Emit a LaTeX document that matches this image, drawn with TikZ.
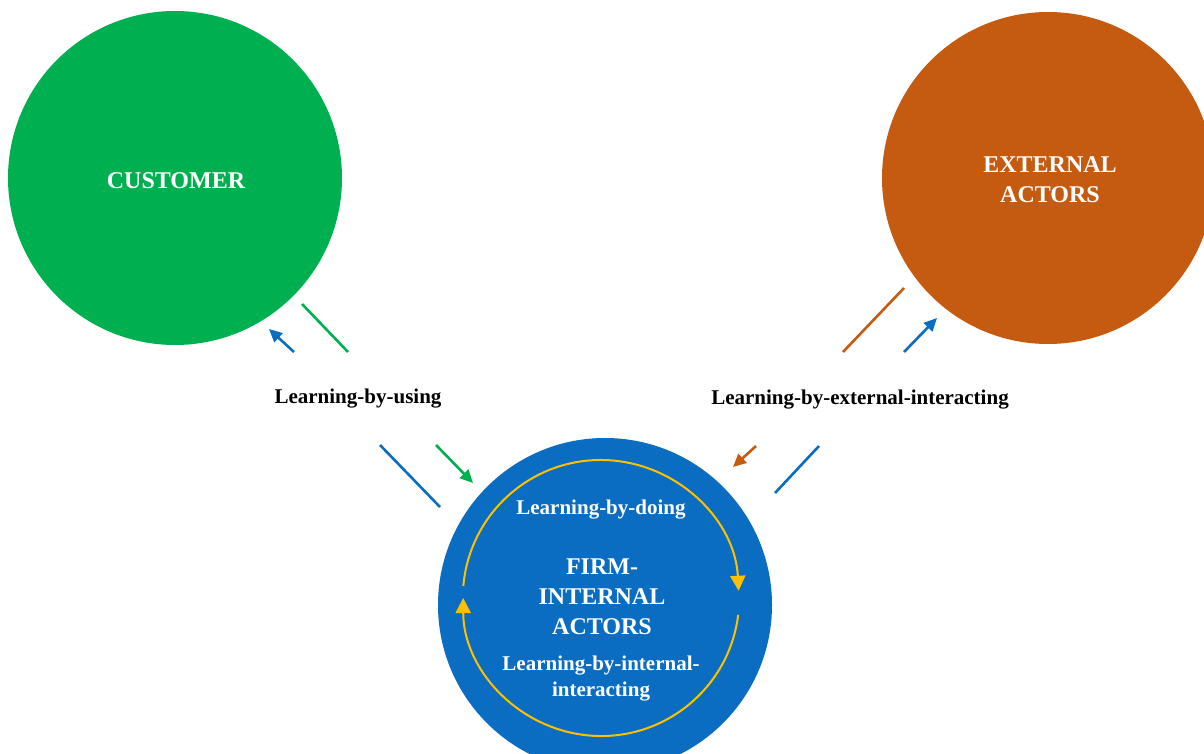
\documentclass[tikz,border=0pt]{standalone}
\usepackage{fontspec}
\setmainfont{Liberation Serif}
\usepackage{tikz}
\usetikzlibrary{arrows.meta}

\definecolor{custgreen}{HTML}{00B050}
\definecolor{extorange}{HTML}{C55A11}
\definecolor{firmblue}{HTML}{0A6DC2}
\definecolor{loopyellow}{HTML}{FFC000}

\tikzset{
  actor/.style={circle, inner sep=0pt, align=center, text=white,
    font=\fontsize{24}{30}\selectfont\bfseries},
  lbl/.style={align=center, font=\fontsize{21}{26}\selectfont\bfseries},
  flow/.style={line width=2.6pt},
  tip/.style={flow, -{Triangle[length=13pt, width=12pt]}},
  loopline/.style={draw=loopyellow, line width=2pt, -{Triangle[length=15pt, width=15pt]}}
}

\begin{document}
\begin{tikzpicture}[x=1pt, y=-1pt]
        \useasboundingbox (0,0) rectangle (1204,754);
        \node[actor, fill=custgreen, minimum size=334pt] (cust) at (175,178) {};
        \node[actor, fill=extorange, minimum size=332pt] (ext) at (1048,178) {};
        \node[actor, fill=firmblue, minimum size=334pt] (firm) at (605,605) {};
        \node[circle, inner sep=0pt, minimum size=276pt] (ring) at (601,598) {};

        \node[actor] (custname) at (176,181) {CUSTOMER};
        \node[actor] (extname) at (1050,180) {EXTERNAL\\ACTORS};
        \node[actor] (firmname) at (602,597) {FIRM-\\INTERNAL\\ACTORS};
        \node[lbl, text=white] (doing) at (601,510) {Learning-by-doing};
        \node[lbl, text=white] (internal) at (601,679) {Learning-by-internal-\\interacting};
        \node[lbl] (using) at (358,399) {Learning-by-using};
        \node[lbl] (external) at (860,400) {Learning-by-external-interacting};

        \path[loopline] (ring.175) arc[start angle=175, end angle=3, radius=138pt];
        \path[loopline] (ring.-7) arc[start angle=-7, end angle=-180, radius=138pt];

        \foreach \n/\x/\y in {ua/302/304, ub/348/352, uc/294/352, ud/269/329,
                              ue/380/445, uf/440/507, ug/436/445, uh/473/483,
                              ea/904/288, eb/843/352, ec/904/352, ed/937/318,
                              ee/756/446, ef/733/467, eg/819/446, eh/775/493}{
            \coordinate (\n) at (\x,\y);
        }
        \path[draw, flow, custgreen] (ua) -- (ub);
        \path[draw, tip, firmblue] (uc) -- (ud);
        \path[draw, flow, firmblue] (ue) -- (uf);
        \path[draw, tip, custgreen] (ug) -- (uh);
        \path[draw, flow, extorange] (ea) -- (eb);
        \path[draw, tip, firmblue] (ec) -- (ed);
        \path[draw, tip, extorange] (ee) -- (ef);
        \path[draw, flow, firmblue] (eg) -- (eh);
    \end{tikzpicture}
\end{document}
